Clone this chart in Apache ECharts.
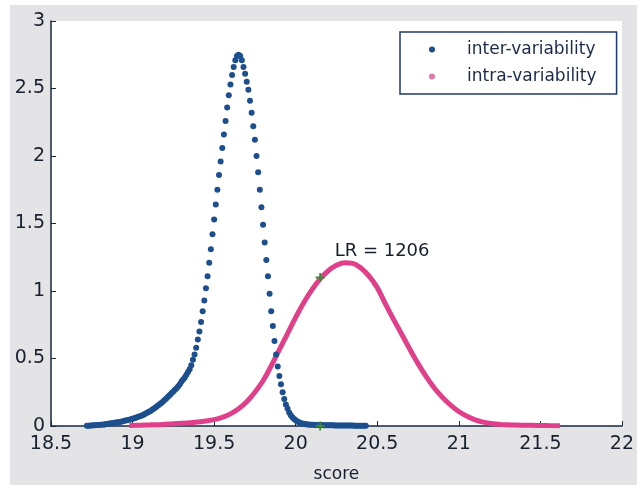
<!DOCTYPE html>
<html>
<head>
<meta charset="utf-8">
<script src="https://cdn.jsdelivr.net/npm/echarts@6/dist/echarts.min.js"></script>
<style>
    html, body { margin: 0; padding: 0; background: #fff; }
    #bg { position: absolute; left: 10px; top: 5px; width: 627px; height: 480px; background: #e4e4e6; }
    #chart { position: absolute; left: 0; top: 0; width: 637px; height: 488px; }
</style>
</head>
<body>
<div id="bg"></div>
<div id="chart"></div>
<script>
    // inter-variability density (blue dots)
    var interScore = [
        18.72, 18.73, 18.74, 18.75, 18.76, 18.77, 18.78, 18.79, 18.80, 18.81,
        18.82, 18.83, 18.84, 18.85, 18.86, 18.87, 18.88, 18.89, 18.90, 18.91,
        18.92, 18.93, 18.94, 18.95, 18.96, 18.97, 18.98, 18.99, 19.00, 19.01,
        19.02, 19.03, 19.04, 19.05, 19.06, 19.07, 19.08, 19.09, 19.10, 19.11,
        19.12, 19.13, 19.14, 19.15, 19.16, 19.17, 19.18, 19.19, 19.20, 19.21,
        19.22, 19.23, 19.24, 19.25, 19.26, 19.27, 19.28, 19.29, 19.30, 19.31,
        19.32, 19.33, 19.34, 19.35, 19.36, 19.37, 19.38, 19.39, 19.40, 19.41,
        19.42, 19.43, 19.44, 19.45, 19.46, 19.47, 19.48, 19.49, 19.50, 19.51,
        19.52, 19.53, 19.54, 19.55, 19.56, 19.57, 19.58, 19.59, 19.60, 19.61,
        19.62, 19.63, 19.64, 19.65, 19.66, 19.67, 19.68, 19.69, 19.70, 19.71,
        19.72, 19.73, 19.74, 19.75, 19.76, 19.77, 19.78, 19.79, 19.80, 19.81,
        19.82, 19.83, 19.84, 19.85, 19.86, 19.87, 19.88, 19.89, 19.90, 19.91,
        19.92, 19.93, 19.94, 19.95, 19.96, 19.97, 19.98, 19.99, 20.00, 20.01,
        20.02, 20.03, 20.04, 20.05, 20.06, 20.07, 20.08, 20.09, 20.10, 20.11,
        20.12, 20.13, 20.14, 20.15, 20.16, 20.17, 20.18, 20.19, 20.20, 20.21,
        20.22, 20.23, 20.24, 20.25, 20.26, 20.27, 20.28, 20.29, 20.30, 20.31,
        20.32, 20.33, 20.34, 20.35, 20.36, 20.37, 20.38, 20.39, 20.40, 20.41,
        20.42, 20.43
    ];
    var interDensity = [
        0.001, 0.002, 0.003, 0.004, 0.005, 0.006, 0.007, 0.008, 0.009, 0.010,
        0.011, 0.012, 0.014, 0.016, 0.018, 0.020, 0.022, 0.024, 0.026, 0.028,
        0.030, 0.032, 0.035, 0.038, 0.041, 0.044, 0.047, 0.050, 0.054, 0.058,
        0.062, 0.066, 0.070, 0.075, 0.080, 0.086, 0.092, 0.098, 0.105, 0.112,
        0.120, 0.128, 0.137, 0.146, 0.155, 0.165, 0.175, 0.185, 0.196, 0.208,
        0.220, 0.232, 0.244, 0.256, 0.268, 0.280, 0.295, 0.310, 0.330, 0.345,
        0.360, 0.380, 0.400, 0.420, 0.450, 0.490, 0.530, 0.580, 0.640, 0.700,
        0.770, 0.850, 0.930, 1.020, 1.110, 1.210, 1.310, 1.420, 1.530, 1.640,
        1.750, 1.860, 1.960, 2.060, 2.160, 2.260, 2.360, 2.450, 2.530, 2.600,
        2.660, 2.710, 2.740, 2.750, 2.740, 2.710, 2.660, 2.610, 2.550, 2.490,
        2.410, 2.320, 2.220, 2.120, 2.000, 1.880, 1.750, 1.620, 1.490, 1.360,
        1.230, 1.110, 0.980, 0.850, 0.740, 0.630, 0.530, 0.440, 0.370, 0.310,
        0.250, 0.200, 0.160, 0.130, 0.100, 0.080, 0.065, 0.052, 0.042, 0.034,
        0.028, 0.023, 0.019, 0.016, 0.014, 0.012, 0.011, 0.010, 0.009, 0.009,
        0.008, 0.008, 0.007, 0.007, 0.007, 0.006, 0.006, 0.006, 0.005, 0.005,
        0.005, 0.005, 0.004, 0.004, 0.004, 0.004, 0.004, 0.003, 0.003, 0.003,
        0.003, 0.003, 0.003, 0.003, 0.002, 0.002, 0.002, 0.002, 0.002, 0.002,
        0.002, 0.001
    ];

    // intra-variability density (pink curve)
    var intraScore = [
        18.98, 19.05, 19.10, 19.15, 19.20, 19.25, 19.30, 19.35, 19.40, 19.45,
        19.50, 19.55, 19.60, 19.65, 19.70, 19.75, 19.80, 19.85, 19.90, 19.95,
        20.00, 20.05, 20.10, 20.15, 20.20, 20.25, 20.30, 20.35, 20.40, 20.45,
        20.50, 20.55, 20.60, 20.65, 20.70, 20.75, 20.80, 20.85, 20.90, 20.95,
        21.00, 21.05, 21.10, 21.15, 21.20, 21.25, 21.30, 21.35, 21.40, 21.45,
        21.50, 21.55, 21.62
    ];
    var intraDensity = [
        0.004, 0.006, 0.008, 0.010, 0.013, 0.016, 0.020, 0.025, 0.030, 0.037,
        0.047, 0.064, 0.090, 0.128, 0.180, 0.250, 0.335, 0.445, 0.565, 0.685,
        0.805, 0.915, 1.010, 1.090, 1.150, 1.190, 1.210, 1.205, 1.170, 1.110,
        1.025, 0.905, 0.790, 0.680, 0.568, 0.462, 0.366, 0.282, 0.212, 0.154,
        0.107, 0.072, 0.046, 0.029, 0.018, 0.012, 0.009, 0.007, 0.006, 0.005,
        0.004, 0.003, 0.002
    ];

    // green markers and LR annotation
    var markScore = [20.15, 20.15];
    var markDensity = [1.10, 0];
    var lrText = 'LR = 1206';

    var xTicks = [18.5, 19, 19.5, 20, 20.5, 21, 21.5, 22];
    var yTicks = [0, 0.5, 1, 1.5, 2, 2.5, 3];

    function pairs(xs, ys) {
        var out = [];
        for (var i = 0; i < xs.length; i++) {
            out.push([xs[i], ys[i]]);
        }
        return out;
    }

    var font = 'DejaVu Sans';
    var inkColor = '#16202e';
    var axisColor = '#16283c';
    var blue = '#1d4f8e';
    var pink = '#e0408a';

    var option = {
        animation: false,
        backgroundColor: 'transparent',
        grid: {
            left: 51, right: 8, top: 21, bottom: 62,
            show: true, backgroundColor: '#ffffff', borderWidth: 0
        },
        legend: {
            orient: 'vertical',
            left: 400,
            top: 32,
            padding: [9, 20, 9, 29],
            itemGap: 10,
            itemWidth: 6,
            itemHeight: 6,
            icon: 'circle',
            borderColor: '#1c3a6e',
            borderWidth: 1.5,
            backgroundColor: '#ffffff',
            borderRadius: 0,
            formatter: function (name) { return '     ' + name; },
            textStyle: { fontFamily: font, fontSize: 17, color: '#1b2a4a' },
            data: [
                { name: 'inter-variability', itemStyle: { color: blue } },
                { name: 'intra-variability', itemStyle: { color: '#e07aa8' } }
            ]
        },
        xAxis: {
            type: 'value',
            min: xTicks[0],
            max: xTicks[xTicks.length - 1],
            interval: 0.5,
            name: 'score',
            nameLocation: 'middle',
            nameGap: 40,
            nameTextStyle: { fontFamily: font, fontSize: 17, color: inkColor },
            splitLine: { show: false },
            axisLine: { show: true, lineStyle: { color: axisColor, width: 1.5 } },
            axisTick: { show: true, inside: true, length: 5, lineStyle: { color: axisColor } },
            axisLabel: {
                margin: 9, fontFamily: font, fontSize: 19, color: inkColor,
                showMinLabel: true, showMaxLabel: true,
                formatter: function (v) { return String(v); }
            }
        },
        yAxis: {
            type: 'value',
            min: yTicks[0],
            max: yTicks[yTicks.length - 1],
            interval: 0.5,
            splitLine: { show: false },
            axisLine: { show: true, lineStyle: { color: axisColor, width: 1.5 } },
            axisTick: { show: true, inside: true, length: 5, lineStyle: { color: axisColor } },
            axisLabel: {
                margin: 6, fontFamily: font, fontSize: 19, color: inkColor,
                formatter: function (v) { return String(v); }
            }
        },
        series: [
            {
                name: 'intra-variability',
                type: 'line',
                data: pairs(intraScore, intraDensity),
                smooth: 0.4,
                showSymbol: false,
                symbol: 'none',
                lineStyle: { color: pink, width: 5 },
                itemStyle: { color: pink },
                z: 2
            },
            {
                name: 'inter-variability',
                type: 'scatter',
                data: pairs(interScore, interDensity),
                symbol: 'circle',
                symbolSize: 6,
                itemStyle: { color: blue, opacity: 1 },
                z: 3
            },
            {
                name: 'marks',
                type: 'scatter',
                data: pairs(markScore, markDensity),
                symbol: 'path://M4,0 L6,0 L6,4 L10,4 L10,6 L6,6 L6,10 L4,10 L4,6 L0,6 L0,4 L4,4 Z',
                symbolSize: 9,
                itemStyle: { color: '#3a8a3a', opacity: 1 },
                label: {
                    show: true,
                    formatter: function (p) { return p.dataIndex === 0 ? lrText : ''; },
                    position: [19, -31],
                    fontFamily: font,
                    fontSize: 18,
                    color: inkColor
                },
                z: 4
            }
        ]
    };

    var chart = echarts.init(document.getElementById('chart'));
    chart.setOption(option);
</script>
</body>
</html>
